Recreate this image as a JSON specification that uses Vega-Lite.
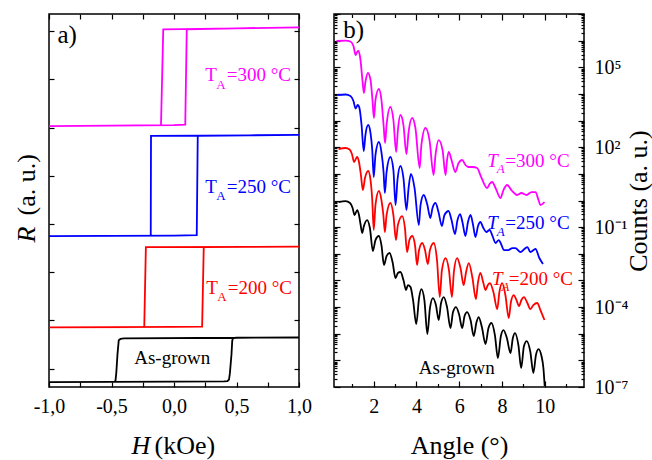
{
"$schema": "https://vega.github.io/schema/vega-lite/v6.json",
"padding": {"left": 12, "top": 12, "right": 2, "bottom": 2},
"bounds": "flush",
"spacing": 35,
"datasets": {
"loops": [
{"H":-1,"R":5.03,"s":"300","i":0},{"H":-0.5,"R":5.04,"s":"300","i":1},{"H":0,"R":5.05,"s":"300","i":2},{"H":0.09,"R":5.06,"s":"300","i":3},{"H":0.102,"R":7.04,"s":"300","i":4},{"H":0.5,"R":7.06,"s":"300","i":5},{"H":1,"R":7.08,"s":"300","i":6},{"H":0.5,"R":7.06,"s":"300","i":7},{"H":-0.086,"R":7.04,"s":"300","i":8},{"H":-0.104,"R":5.05,"s":"300","i":9},{"H":-0.5,"R":5.04,"s":"300","i":10},{"H":-1,"R":5.03,"s":"300","i":11},
{"H":-1,"R":2.75,"s":"250","i":0},{"H":0,"R":2.76,"s":"250","i":1},{"H":0.182,"R":2.77,"s":"250","i":2},{"H":0.19,"R":4.83,"s":"250","i":3},{"H":0.6,"R":4.84,"s":"250","i":4},{"H":1,"R":4.85,"s":"250","i":5},{"H":0.6,"R":4.84,"s":"250","i":6},{"H":-0.184,"R":4.83,"s":"250","i":7},{"H":-0.186,"R":2.76,"s":"250","i":8},{"H":-1,"R":2.75,"s":"250","i":9},
{"H":-1,"R":0.855,"s":"200","i":0},{"H":0,"R":0.865,"s":"200","i":1},{"H":0.225,"R":0.87,"s":"200","i":2},{"H":0.238,"R":2.52,"s":"200","i":3},{"H":0.6,"R":2.525,"s":"200","i":4},{"H":1,"R":2.53,"s":"200","i":5},{"H":0.6,"R":2.525,"s":"200","i":6},{"H":-0.225,"R":2.52,"s":"200","i":7},{"H":-0.238,"R":0.86,"s":"200","i":8},{"H":-1,"R":0.855,"s":"200","i":9},
{"H":-1,"R":-0.28,"s":"as","i":0},{"H":0,"R":-0.27,"s":"as","i":1},{"H":0.4,"R":-0.265,"s":"as","i":2},{"H":0.428,"R":-0.258,"s":"as","i":3},{"H":0.44,"R":-0.23,"s":"as","i":4},{"H":0.447,"R":-0.1,"s":"as","i":5},{"H":0.46,"R":0.3,"s":"as","i":6},{"H":0.466,"R":0.58,"s":"as","i":7},{"H":0.472,"R":0.635,"s":"as","i":8},{"H":0.5,"R":0.64,"s":"as","i":9},{"H":1,"R":0.645,"s":"as","i":10},{"H":0.5,"R":0.64,"s":"as","i":11},{"H":-0.4,"R":0.625,"s":"as","i":12},{"H":-0.428,"R":0.615,"s":"as","i":13},{"H":-0.442,"R":0.59,"s":"as","i":14},{"H":-0.452,"R":0.3,"s":"as","i":15},{"H":-0.462,"R":-0.1,"s":"as","i":16},{"H":-0.468,"R":-0.25,"s":"as","i":17},{"H":-0.475,"R":-0.275,"s":"as","i":18},{"H":-1,"R":-0.28,"s":"as","i":19}
],
"leftText": [
{"H":0.249,"R":5.96,"t":"T","s":"300"},{"H":0.422,"R":5.96,"t":"=300 °C","s":"300"},
{"H":0.249,"R":3.643,"t":"T","s":"250"},{"H":0.422,"R":3.643,"t":"=250 °C","s":"250"},
{"H":0.257,"R":1.556,"t":"T","s":"200"},{"H":0.43,"R":1.556,"t":"=200 °C","s":"200"},
{"H":-0.318,"R":0.089,"t":"As-grown","s":"as"}
],
"leftSub": [
{"H":0.338,"R":5.81,"t":"A","s":"300"},{"H":0.338,"R":3.491,"t":"A","s":"250"},{"H":0.346,"R":1.404,"t":"A","s":"200"}
],
"leftPanel": [{"H":-0.933,"R":6.763,"t":"a)"}],
"xrr": [
{"a":0.26,"c":9.68e5,"s":"300"},{"a":0.68,"c":1.01e6,"s":"300"},{"a":0.91,"c":9.29e5,"s":"300"},{"a":1.05,"c":6.30e5,"s":"300"},{"a":1.15,"c":2.89e5,"s":"300"},{"a":1.22,"c":3.75e5,"s":"300"},{"a":1.29,"c":4.08e5,"s":"300"},{"a":1.38,"c":1.87e5,"s":"300"},{"a":1.47,"c":3.33e4,"s":"300"},{"a":1.54,"c":1.08e4,"s":"300"},{"a":1.61,"c":2.80e4,"s":"300"},{"a":1.73,"c":6.10e4,"s":"300"},{"a":1.85,"c":3.33e4,"s":"300"},{"a":1.94,"c":5.92e3,"s":"300"},{"a":2.01,"c":1.25e3,"s":"300"},{"a":2.08,"c":5.92e3,"s":"300"},{"a":2.24,"c":1.53e4,"s":"300"},{"a":2.36,"c":5.92e3,"s":"300"},{"a":2.46,"c":681,"s":"300"},{"a":2.53,"c":144,"s":"300"},{"a":2.60,"c":681,"s":"300"},{"a":2.78,"c":3230,"s":"300"},{"a":2.92,"c":1050,"s":"300"},{"a":3.05,"c":66.1,"s":"300"},{"a":3.13,"c":443,"s":"300"},{"a":3.25,"c":1620,"s":"300"},{"a":3.39,"c":681,"s":"300"},{"a":3.53,"c":55.6,"s":"300"},{"a":3.63,"c":372,"s":"300"},{"a":3.80,"c":1250,"s":"300"},{"a":3.95,"c":526,"s":"300"},{"a":4.15,"c":16.6,"s":"300"},{"a":4.23,"c":121,"s":"300"},{"a":4.42,"c":526,"s":"300"},{"a":4.61,"c":186,"s":"300"},{"a":4.80,"c":9.04,"s":"300"},{"a":4.89,"c":50.9,"s":"300"},{"a":5.04,"c":186,"s":"300"},{"a":5.22,"c":78.5,"s":"300"},{"a":5.36,"c":9.04,"s":"300"},{"a":5.43,"c":33.1,"s":"300"},{"a":5.51,"c":66.1,"s":"300"},{"a":5.64,"c":33.1,"s":"300"},{"a":5.82,"c":11.7,"s":"300"},{"a":5.97,"c":25.5,"s":"300"},{"a":6.14,"c":33.1,"s":"300"},{"a":6.29,"c":21.5,"s":"300"},{"a":6.43,"c":18.1,"s":"300"},{"a":6.62,"c":18.1,"s":"300"},{"a":6.84,"c":16.6,"s":"300"},{"a":6.99,"c":9.04,"s":"300"},{"a":7.31,"c":2.94,"s":"300"},{"a":7.42,"c":4.16,"s":"300"},{"a":7.54,"c":4.94,"s":"300"},{"a":7.70,"c":2.94,"s":"300"},{"a":7.93,"c":1.24,"s":"300"},{"a":8.07,"c":2.47,"s":"300"},{"a":8.24,"c":3.81,"s":"300"},{"a":8.44,"c":2.47,"s":"300"},{"a":8.71,"c":1.61,"s":"300"},{"a":8.91,"c":1.91,"s":"300"},{"a":9.15,"c":1.61,"s":"300"},{"a":9.38,"c":2.08,"s":"300"},{"a":9.57,"c":2.08,"s":"300"},{"a":9.71,"c":1.04,"s":"300"},{"a":9.80,"c":0.676,"s":"300"},{"a":9.99,"c":0.877,"s":"300"},
{"a":0.30,"c":9100,"s":"250"},{"a":0.68,"c":9510,"s":"250"},{"a":0.91,"c":8350,"s":"250"},{"a":1.05,"c":5420,"s":"250"},{"a":1.15,"c":2840,"s":"250"},{"a":1.25,"c":3840,"s":"250"},{"a":1.33,"c":2960,"s":"250"},{"a":1.43,"c":681,"s":"250"},{"a":1.53,"c":72.0,"s":"250"},{"a":1.61,"c":287,"s":"250"},{"a":1.74,"c":681,"s":"250"},{"a":1.85,"c":341,"s":"250"},{"a":1.93,"c":78.5,"s":"250"},{"a":2.00,"c":7.60,"s":"250"},{"a":2.08,"c":50.9,"s":"250"},{"a":2.24,"c":157,"s":"250"},{"a":2.36,"c":66.1,"s":"250"},{"a":2.46,"c":11.7,"s":"250"},{"a":2.52,"c":1.91,"s":"250"},{"a":2.60,"c":11.7,"s":"250"},{"a":2.78,"c":42.9,"s":"250"},{"a":2.92,"c":13.9,"s":"250"},{"a":3.02,"c":0.676,"s":"250"},{"a":3.11,"c":5.87,"s":"250"},{"a":3.25,"c":19.7,"s":"250"},{"a":3.39,"c":6.98,"s":"250"},{"a":3.53,"c":0.439,"s":"250"},{"a":3.63,"c":2.94,"s":"250"},{"a":3.74,"c":9.86,"s":"250"},{"a":3.91,"c":2.94,"s":"250"},{"a":4.11,"c":0.120,"s":"250"},{"a":4.19,"c":0.676,"s":"250"},{"a":4.34,"c":1.61,"s":"250"},{"a":4.51,"c":0.676,"s":"250"},{"a":4.65,"c":0.220,"s":"250"},{"a":4.75,"c":0.522,"s":"250"},{"a":4.89,"c":0.804,"s":"250"},{"a":5.03,"c":0.370,"s":"250"},{"a":5.19,"c":0.110,"s":"250"},{"a":5.31,"c":0.285,"s":"250"},{"a":5.50,"c":0.403,"s":"250"},{"a":5.64,"c":0.185,"s":"250"},{"a":5.80,"c":0.0552,"s":"250"},{"a":5.92,"c":0.185,"s":"250"},{"a":6.04,"c":0.310,"s":"250"},{"a":6.15,"c":0.156,"s":"250"},{"a":6.29,"c":0.0465,"s":"250"},{"a":6.41,"c":0.156,"s":"250"},{"a":6.53,"c":0.285,"s":"250"},{"a":6.64,"c":0.131,"s":"250"},{"a":6.76,"c":0.0426,"s":"250"},{"a":6.88,"c":0.110,"s":"250"},{"a":6.99,"c":0.156,"s":"250"},{"a":7.13,"c":0.0927,"s":"250"},{"a":7.27,"c":0.0656,"s":"250"},{"a":7.42,"c":0.078,"s":"250"},{"a":7.56,"c":0.0465,"s":"250"},{"a":7.70,"c":0.0254,"s":"250"},{"a":7.85,"c":0.0328,"s":"250"},{"a":7.98,"c":0.0213,"s":"250"},{"a":8.09,"c":0.0138,"s":"250"},{"a":8.30,"c":0.0138,"s":"250"},{"a":8.49,"c":0.0164,"s":"250"},{"a":8.63,"c":0.0164,"s":"250"},{"a":8.87,"c":0.0116,"s":"250"},{"a":9.05,"c":0.0151,"s":"250"},{"a":9.19,"c":0.0179,"s":"250"},{"a":9.33,"c":0.0116,"s":"250"},{"a":9.57,"c":0.0151,"s":"250"},{"a":9.75,"c":0.00693,"s":"250"},{"a":9.92,"c":0.00412,"s":"250"},
{"a":0.35,"c":85.6,"s":"200"},{"a":0.68,"c":93.3,"s":"200"},{"a":0.87,"c":81.9,"s":"200"},{"a":0.98,"c":55.6,"s":"200"},{"a":1.08,"c":27.8,"s":"200"},{"a":1.22,"c":42.9,"s":"200"},{"a":1.31,"c":27.8,"s":"200"},{"a":1.40,"c":9.04,"s":"200"},{"a":1.49,"c":2.47,"s":"200"},{"a":1.59,"c":6.98,"s":"200"},{"a":1.74,"c":12.8,"s":"200"},{"a":1.85,"c":5.87,"s":"200"},{"a":1.93,"c":1.04,"s":"200"},{"a":2.00,"c":0.078,"s":"200"},{"a":2.08,"c":0.676,"s":"200"},{"a":2.24,"c":2.27,"s":"200"},{"a":2.36,"c":1.04,"s":"200"},{"a":2.45,"c":0.285,"s":"200"},{"a":2.52,"c":0.0656,"s":"200"},{"a":2.60,"c":0.285,"s":"200"},{"a":2.78,"c":0.804,"s":"200"},{"a":2.92,"c":0.285,"s":"200"},{"a":3.04,"c":0.0328,"s":"200"},{"a":3.13,"c":0.120,"s":"200"},{"a":3.33,"c":0.261,"s":"200"},{"a":3.46,"c":0.0927,"s":"200"},{"a":3.56,"c":0.0116,"s":"200"},{"a":3.67,"c":0.0328,"s":"200"},{"a":3.80,"c":0.0465,"s":"200"},{"a":3.93,"c":0.0213,"s":"200"},{"a":4.03,"c":0.00378,"s":"200"},{"a":4.12,"c":0.0138,"s":"200"},{"a":4.27,"c":0.0254,"s":"200"},{"a":4.40,"c":0.0138,"s":"200"},{"a":4.53,"c":0.00412,"s":"200"},{"a":4.63,"c":0.0138,"s":"200"},{"a":4.81,"c":0.0254,"s":"200"},{"a":4.96,"c":0.00583,"s":"200"},{"a":5.09,"c":2.38e-4,"s":"200"},{"a":5.19,"c":0.00245,"s":"200"},{"a":5.36,"c":0.00693,"s":"200"},{"a":5.52,"c":0.00245,"s":"200"},{"a":5.66,"c":2.38e-4,"s":"200"},{"a":5.75,"c":0.00207,"s":"200"},{"a":5.90,"c":0.00693,"s":"200"},{"a":6.06,"c":0.00292,"s":"200"},{"a":6.21,"c":6.72e-4,"s":"200"},{"a":6.32,"c":0.00207,"s":"200"},{"a":6.45,"c":0.0045,"s":"200"},{"a":6.62,"c":0.00123,"s":"200"},{"a":6.78,"c":2.0e-4,"s":"200"},{"a":6.88,"c":8.71e-4,"s":"200"},{"a":6.99,"c":0.0019,"s":"200"},{"a":7.13,"c":7.98e-4,"s":"200"},{"a":7.23,"c":4.36e-4,"s":"200"},{"a":7.34,"c":6.72e-4,"s":"200"},{"a":7.44,"c":7.98e-4,"s":"200"},{"a":7.60,"c":3.67e-4,"s":"200"},{"a":7.78,"c":8.43e-5,"s":"200"},{"a":7.88,"c":3.67e-4,"s":"200"},{"a":8.01,"c":7.98e-4,"s":"200"},{"a":8.16,"c":2.83e-4,"s":"200"},{"a":8.32,"c":3.88e-5,"s":"200"},{"a":8.42,"c":1.55e-4,"s":"200"},{"a":8.55,"c":2.83e-4,"s":"200"},{"a":8.68,"c":1.84e-4,"s":"200"},{"a":8.80,"c":1.09e-4,"s":"200"},{"a":8.91,"c":1.84e-4,"s":"200"},{"a":9.03,"c":2.38e-4,"s":"200"},{"a":9.19,"c":1.42e-4,"s":"200"},{"a":9.33,"c":8.43e-5,"s":"200"},{"a":9.47,"c":1.19e-4,"s":"200"},{"a":9.65,"c":1.42e-4,"s":"200"},{"a":9.80,"c":7.74e-5,"s":"200"},{"a":9.99,"c":3.26e-5,"s":"200"},
{"a":0.35,"c":0.877,"s":"as"},{"a":0.68,"c":0.955,"s":"as"},{"a":0.89,"c":0.804,"s":"as"},{"a":1.01,"c":0.522,"s":"as"},{"a":1.10,"c":0.285,"s":"as"},{"a":1.23,"c":0.439,"s":"as"},{"a":1.31,"c":0.285,"s":"as"},{"a":1.38,"c":0.131,"s":"as"},{"a":1.46,"c":0.0601,"s":"as"},{"a":1.54,"c":0.110,"s":"as"},{"a":1.69,"c":0.185,"s":"as"},{"a":1.82,"c":0.0927,"s":"as"},{"a":1.96,"c":0.0127,"s":"as"},{"a":2.08,"c":0.0328,"s":"as"},{"a":2.24,"c":0.0465,"s":"as"},{"a":2.36,"c":0.0213,"s":"as"},{"a":2.48,"c":0.00378,"s":"as"},{"a":2.60,"c":0.00824,"s":"as"},{"a":2.74,"c":0.0107,"s":"as"},{"a":2.88,"c":0.00491,"s":"as"},{"a":3.02,"c":0.00123,"s":"as"},{"a":3.13,"c":0.0019,"s":"as"},{"a":3.25,"c":0.00207,"s":"as"},{"a":3.39,"c":0.00104,"s":"as"},{"a":3.51,"c":4.36e-4,"s":"as"},{"a":3.60,"c":6.72e-4,"s":"as"},{"a":3.72,"c":5.65e-4,"s":"as"},{"a":3.84,"c":1.84e-4,"s":"as"},{"a":3.99,"c":2.31e-5,"s":"as"},{"a":4.12,"c":2.18e-4,"s":"as"},{"a":4.23,"c":4.75e-4,"s":"as"},{"a":4.37,"c":1.84e-4,"s":"as"},{"a":4.51,"c":9.73e-6,"s":"as"},{"a":4.63,"c":9.2e-5,"s":"as"},{"a":4.77,"c":2.18e-4,"s":"as"},{"a":4.91,"c":1.19e-4,"s":"as"},{"a":5.04,"c":3.26e-5,"s":"as"},{"a":5.15,"c":1.42e-4,"s":"as"},{"a":5.28,"c":2.38e-4,"s":"as"},{"a":5.43,"c":1.0e-4,"s":"as"},{"a":5.59,"c":1.63e-5,"s":"as"},{"a":5.71,"c":6.5e-5,"s":"as"},{"a":5.85,"c":1.0e-4,"s":"as"},{"a":5.99,"c":5.47e-5,"s":"as"},{"a":6.14,"c":1.63e-5,"s":"as"},{"a":6.25,"c":4.6e-5,"s":"as"},{"a":6.37,"c":6.5e-5,"s":"as"},{"a":6.53,"c":3.26e-5,"s":"as"},{"a":6.68,"c":8.18e-6,"s":"as"},{"a":6.81,"c":2.74e-5,"s":"as"},{"a":6.91,"c":4.23e-5,"s":"as"},{"a":7.06,"c":1.78e-5,"s":"as"},{"a":7.23,"c":4.1e-6,"s":"as"},{"a":7.37,"c":1.63e-5,"s":"as"},{"a":7.51,"c":2.52e-5,"s":"as"},{"a":7.67,"c":8.91e-6,"s":"as"},{"a":7.81,"c":1.22e-6,"s":"as"},{"a":7.95,"c":8.18e-6,"s":"as"},{"a":8.07,"c":1.37e-5,"s":"as"},{"a":8.23,"c":6.89e-6,"s":"as"},{"a":8.40,"c":1.88e-6,"s":"as"},{"a":8.51,"c":6.89e-6,"s":"as"},{"a":8.61,"c":1.06e-5,"s":"as"},{"a":8.77,"c":3.76e-6,"s":"as"},{"a":8.90,"c":5.15e-7,"s":"as"},{"a":9.03,"c":3.45e-6,"s":"as"},{"a":9.16,"c":5.31e-6,"s":"as"},{"a":9.33,"c":2.06e-6,"s":"as"},{"a":9.47,"c":3.34e-7,"s":"as"},{"a":9.59,"c":1.58e-6,"s":"as"},{"a":9.71,"c":2.66e-6,"s":"as"},{"a":9.85,"c":1.45e-6,"s":"as"},{"a":9.94,"c":5.15e-7,"s":"as"},{"a":10.0,"c":1.09e-7,"s":"as"}
],
"rightText": [
{"a":8.16,"c":18.5,"t":"=300 °C","s":"300"},{"a":8.16,"c":0.0828,"t":"=250 °C","s":"250"},{"a":8.32,"c":6.72e-4,"t":"=200 °C","s":"200"},{"a":4.11,"c":3.06e-7,"t":"As-grown","s":"as"}
],
"rightT": [
{"a":7.31,"c":18.5,"t":"T","s":"300"},{"a":7.31,"c":0.0828,"t":"T","s":"250"},{"a":7.54,"c":6.72e-4,"t":"T","s":"200"}
],
"rightSub": [
{"a":7.76,"c":10.7,"t":"A","s":"300"},{"a":7.76,"c":0.0464,"t":"A","s":"250"},{"a":7.98,"c":4.0e-4,"t":"A","s":"200"}
],
"rightPanel": [{"a":0.57,"c":1.22e6,"t":"b)"}]
},
"hconcat": [
{
"width": 250, "height": 373,
"resolve": {"axis": {"x": "independent", "y": "independent"}},
"layer": [
{"data": {"name": "loops"}, "mark": {"type": "line", "strokeWidth": 1.8, "clip": true},
 "encoding": {
  "x": {"field": "H", "type": "quantitative", "scale": {"domain": [-1, 1], "nice": false, "zero": false},
        "axis": {"orient": "bottom", "ticks": false, "values": [-1, -0.5, 0, 0.5, 1], "labelExpr": "datum.value == -1 ? '-1,0' : datum.value == -0.5 ? '-0,5' : datum.value == 0 ? '0,0' : datum.value == 0.5 ? '0,5' : '1,0'", "labelPadding": 25, "labelBaseline": "alphabetic", "title": "H", "titleFontStyle": "italic", "titleX": 82, "titleY": 66, "titleAlign": "left", "titleBaseline": "alphabetic"}},
  "y": {"field": "R", "type": "quantitative", "scale": {"domain": [-0.382, 7.357], "nice": false, "zero": false},
        "axis": {"orient": "left", "ticks": false, "labels": false, "title": "R", "titleFontStyle": "italic", "titleAngle": 270, "titleX": -15, "titleY": 228, "titleAlign": "left", "titleBaseline": "alphabetic"}},
  "color": {"field": "s", "type": "nominal", "scale": {"domain": ["300", "250", "200", "as"], "range": ["#ff00ff", "#0000ff", "#ff0000", "#000000"]}, "legend": null},
  "order": {"field": "i", "type": "quantitative"}
 }},
{"data": {"name": "leftText"}, "mark": {"type": "text", "align": "left", "baseline": "alphabetic", "fontSize": 19},
 "encoding": {
  "x": {"field": "H", "type": "quantitative", "scale": {"domain": [-1, 1], "nice": false, "zero": false},
        "axis": {"orient": "bottom", "labels": false, "title": null, "values": [-1, -0.75, -0.5, -0.25, 0, 0.25, 0.5, 0.75, 1], "tickSize": -5}},
  "y": {"field": "R", "type": "quantitative", "scale": {"domain": [-0.382, 7.357], "nice": false, "zero": false},
        "axis": {"orient": "left", "labels": false, "title": null, "values": [0, 1, 2, 3, 4, 5, 6, 7], "tickSize": -5}},
  "text": {"field": "t", "type": "nominal"},
  "color": {"field": "s", "type": "nominal", "scale": {"domain": ["300", "250", "200", "as"], "range": ["#ff00ff", "#0000ff", "#ff0000", "#000000"]}, "legend": null}
 }},
{"data": {"name": "leftSub"}, "mark": {"type": "text", "align": "left", "baseline": "alphabetic", "fontSize": 13},
 "encoding": {
  "x": {"field": "H", "type": "quantitative", "scale": {"domain": [-1, 1], "nice": false, "zero": false},
        "axis": {"orient": "top", "labels": false, "title": null, "values": [-1, -0.75, -0.5, -0.25, 0, 0.25, 0.5, 0.75, 1], "tickSize": -5}},
  "y": {"field": "R", "type": "quantitative", "scale": {"domain": [-0.382, 7.357], "nice": false, "zero": false},
        "axis": {"orient": "right", "labels": false, "title": null, "values": [0, 1, 2, 3, 4, 5, 6, 7], "tickSize": -5}},
  "text": {"field": "t", "type": "nominal"},
  "color": {"field": "s", "type": "nominal", "scale": {"domain": ["300", "250", "200", "as"], "range": ["#ff00ff", "#0000ff", "#ff0000", "#000000"]}, "legend": null}
 }},
{"data": {"name": "leftPanel"}, "mark": {"type": "text", "align": "left", "baseline": "alphabetic", "fontSize": 25, "color": "black"},
 "encoding": {
  "x": {"field": "H", "type": "quantitative", "scale": {"domain": [-1, 1], "nice": false, "zero": false},
        "axis": {"orient": "bottom", "labels": false, "ticks": false, "title": "(kOe)", "titleX": 105, "titleY": 66, "titleAlign": "left", "titleBaseline": "alphabetic"}},
  "y": {"field": "R", "type": "quantitative", "scale": {"domain": [-0.382, 7.357], "nice": false, "zero": false},
        "axis": {"orient": "left", "labels": false, "ticks": false, "title": "(a. u.)", "titleAngle": 270, "titleX": -15, "titleY": 201, "titleAlign": "left", "titleBaseline": "alphabetic"}},
  "text": {"field": "t", "type": "nominal"}
 }}
]
},
{
"width": 250, "height": 373,
"resolve": {"axis": {"x": "independent", "y": "independent"}},
"layer": [
{"data": {"name": "xrr"}, "mark": {"type": "line", "strokeWidth": 1.8, "interpolate": "monotone", "clip": true},
 "encoding": {
  "x": {"field": "a", "type": "quantitative", "scale": {"domain": [0.14, 11.84], "nice": false, "zero": false},
        "axis": {"orient": "bottom", "ticks": false, "values": [2, 4, 6, 8, 10], "labelPadding": 25, "labelBaseline": "alphabetic", "title": "Angle (°)", "titleX": 125, "titleY": 66, "titleAlign": "center", "titleBaseline": "alphabetic"}},
  "y": {"field": "c", "type": "quantitative", "scale": {"type": "log", "domain": [1e-7, 1e7], "nice": false},
        "axis": {"orient": "right", "ticks": false, "values": [1e-7, 1e-4, 0.1, 100, 1e5], "labelExpr": "datum.value < 1e-6 ? '10⁻⁷' : datum.value < 1e-3 ? '10⁻⁴' : datum.value < 1 ? '10⁻¹' : datum.value < 1000 ? '10²' : '10⁵'", "labelPadding": 10, "labelAlign": "left", "labelBaseline": "middle", "title": "Counts (a. u.)", "titleAngle": 270, "titleX": 62, "titleY": 186.5, "titleAlign": "center", "titleBaseline": "alphabetic"}},
  "color": {"field": "s", "type": "nominal", "scale": {"domain": ["300", "250", "200", "as"], "range": ["#ff00ff", "#0000ff", "#ff0000", "#000000"]}, "legend": null}
 }},
{"data": {"name": "rightText"}, "mark": {"type": "text", "align": "left", "baseline": "alphabetic", "fontSize": 19},
 "encoding": {
  "x": {"field": "a", "type": "quantitative", "scale": {"domain": [0.14, 11.84], "nice": false, "zero": false},
        "axis": {"orient": "bottom", "labels": false, "title": null, "values": [2, 4, 6, 8, 10], "tickSize": -6}},
  "y": {"field": "c", "type": "quantitative", "scale": {"type": "log", "domain": [1e-7, 1e7], "nice": false},
        "axis": {"orient": "left", "labels": false, "title": null, "values": [1e-7, 1e-6, 1e-5, 1e-4, 1e-3, 1e-2, 1e-1, 1, 10, 100, 1e3, 1e4, 1e5, 1e6, 1e7], "tickSize": -6}},
  "text": {"field": "t", "type": "nominal"},
  "color": {"field": "s", "type": "nominal", "scale": {"domain": ["300", "250", "200", "as"], "range": ["#ff00ff", "#0000ff", "#ff0000", "#000000"]}, "legend": null}
 }},
{"data": {"name": "rightT"}, "mark": {"type": "text", "align": "left", "baseline": "alphabetic", "fontSize": 19, "fontStyle": "italic"},
 "encoding": {
  "x": {"field": "a", "type": "quantitative", "scale": {"domain": [0.14, 11.84], "nice": false, "zero": false},
        "axis": {"orient": "top", "labels": false, "title": null, "values": [2, 4, 6, 8, 10], "tickSize": -6}},
  "y": {"field": "c", "type": "quantitative", "scale": {"type": "log", "domain": [1e-7, 1e7], "nice": false},
        "axis": {"orient": "right", "labels": false, "title": null, "values": [1e-7, 1e-6, 1e-5, 1e-4, 1e-3, 1e-2, 1e-1, 1, 10, 100, 1e3, 1e4, 1e5, 1e6, 1e7], "tickSize": -6}},
  "text": {"field": "t", "type": "nominal"},
  "color": {"field": "s", "type": "nominal", "scale": {"domain": ["300", "250", "200", "as"], "range": ["#ff00ff", "#0000ff", "#ff0000", "#000000"]}, "legend": null}
 }},
{"data": {"name": "rightSub"}, "mark": {"type": "text", "align": "left", "baseline": "alphabetic", "fontSize": 13, "fontStyle": "italic"},
 "encoding": {
  "x": {"field": "a", "type": "quantitative", "scale": {"domain": [0.14, 11.84], "nice": false, "zero": false},
        "axis": {"orient": "bottom", "labels": false, "title": null, "values": [1, 3, 5, 7, 9, 11], "tickSize": -3.5}},
  "y": {"field": "c", "type": "quantitative", "scale": {"type": "log", "domain": [1e-7, 1e7], "nice": false},
        "axis": {"orient": "left", "labels": false, "title": null, "tickSize": -3, "values": [2e-7,3e-7,4e-7,5e-7,6e-7,7e-7,8e-7,9e-7,2e-6,3e-6,4e-6,5e-6,6e-6,7e-6,8e-6,9e-6,2e-5,3e-5,4e-5,5e-5,6e-5,7e-5,8e-5,9e-5,2e-4,3e-4,4e-4,5e-4,6e-4,7e-4,8e-4,9e-4,2e-3,3e-3,4e-3,5e-3,6e-3,7e-3,8e-3,9e-3,2e-2,3e-2,4e-2,5e-2,6e-2,7e-2,8e-2,9e-2,0.2,0.3,0.4,0.5,0.6,0.7,0.8,0.9,2,3,4,5,6,7,8,9,20,30,40,50,60,70,80,90,200,300,400,500,600,700,800,900,2e3,3e3,4e3,5e3,6e3,7e3,8e3,9e3,2e4,3e4,4e4,5e4,6e4,7e4,8e4,9e4,2e5,3e5,4e5,5e5,6e5,7e5,8e5,9e5,2e6,3e6,4e6,5e6,6e6,7e6,8e6,9e6]}},
  "text": {"field": "t", "type": "nominal"},
  "color": {"field": "s", "type": "nominal", "scale": {"domain": ["300", "250", "200", "as"], "range": ["#ff00ff", "#0000ff", "#ff0000", "#000000"]}, "legend": null}
 }},
{"data": {"name": "rightPanel"}, "mark": {"type": "text", "align": "left", "baseline": "alphabetic", "fontSize": 25, "color": "black"},
 "encoding": {
  "x": {"field": "a", "type": "quantitative", "scale": {"domain": [0.14, 11.84], "nice": false, "zero": false},
        "axis": {"orient": "top", "labels": false, "title": null, "values": [1, 3, 5, 7, 9, 11], "tickSize": -3.5}},
  "y": {"field": "c", "type": "quantitative", "scale": {"type": "log", "domain": [1e-7, 1e7], "nice": false},
        "axis": {"orient": "right", "labels": false, "title": null, "tickSize": -3, "values": [2e-7,3e-7,4e-7,5e-7,6e-7,7e-7,8e-7,9e-7,2e-6,3e-6,4e-6,5e-6,6e-6,7e-6,8e-6,9e-6,2e-5,3e-5,4e-5,5e-5,6e-5,7e-5,8e-5,9e-5,2e-4,3e-4,4e-4,5e-4,6e-4,7e-4,8e-4,9e-4,2e-3,3e-3,4e-3,5e-3,6e-3,7e-3,8e-3,9e-3,2e-2,3e-2,4e-2,5e-2,6e-2,7e-2,8e-2,9e-2,0.2,0.3,0.4,0.5,0.6,0.7,0.8,0.9,2,3,4,5,6,7,8,9,20,30,40,50,60,70,80,90,200,300,400,500,600,700,800,900,2e3,3e3,4e3,5e3,6e3,7e3,8e3,9e3,2e4,3e4,4e4,5e4,6e4,7e4,8e4,9e4,2e5,3e5,4e5,5e5,6e5,7e5,8e5,9e5,2e6,3e6,4e6,5e6,6e6,7e6,8e6,9e6]}},
  "text": {"field": "t", "type": "nominal"}
 }}
]
}
],
"config": {
 "font": "Liberation Serif, Times New Roman, serif",
 "view": {"stroke": "black", "strokeWidth": 1.5},
 "axis": {"grid": false, "domain": false, "tickColor": "black", "tickWidth": 1.2, "labelColor": "black", "titleColor": "black", "labelFont": "Liberation Serif, Times New Roman, serif", "titleFont": "Liberation Serif, Times New Roman, serif", "labelFontSize": 20, "titleFontSize": 26, "titleFontWeight": "normal", "labelFlush": false, "labelOverlap": false, "titlePadding": 0},
 "text": {"font": "Liberation Serif, Times New Roman, serif"}
}
}
